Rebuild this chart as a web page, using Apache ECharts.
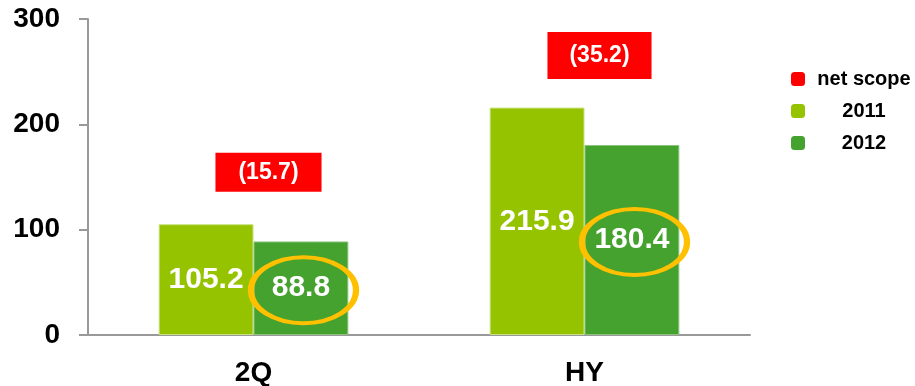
<!DOCTYPE html>
<html>
<head>
<meta charset="utf-8">
<script src="https://cdn.jsdelivr.net/npm/echarts@6/dist/echarts.min.js"></script>
<style>
  html, body { margin: 0; padding: 0; background: #fff; }
  #chart { width: 915px; height: 386px; }
</style>
</head>
<body>
<div id="chart"></div>
<script>
// 数据
const categories = ['2Q', 'HY']
const values2011 = [105.2, 215.9]
const values2012 = [88.8, 180.4]
const netScope = [-15.7, -35.2]
const yTicks = [0, 100, 200, 300]

const FONT = '"Liberation Sans", Arial, sans-serif'
const colors = { net: '#FF0000', y2011: '#96C300', y2012: '#45A22E', ring: '#FFC000' }

const chart = echarts.init(document.getElementById('chart'))

// net scope 标签放在较高柱子上方
const netData = categories.map((c, i) => ({
  value: [c, Math.max(values2011[i], values2012[i]), netScope[i]],
  label: { padding: i === 0 ? [8, 23] : [12, 22] }
}))

// 2012 数值外的椭圆圈
const ringData = categories.map((c, i) => [c, values2012[i] / 2])

const barLabel = {
  show: true,
  position: 'inside',
  color: '#fff',
  fontFamily: FONT,
  fontWeight: 'bold',
  fontSize: 30
}

const option = {
  animation: false,
  grid: { left: 88, right: 165, top: 19, bottom: 51, outerBoundsMode: 'none' },
  legend: {
    data: ['net scope', '2011', '2012'],
    orient: 'vertical',
    left: 791,
    top: 69,
    padding: 0,
    icon: 'roundRect',
    itemWidth: 14,
    itemHeight: 14,
    itemGap: 12,
    itemStyle: { borderWidth: 0, opacity: 1 },
    formatter: name => '{t|' + name + '}',
    textStyle: {
      rich: {
        t: {
          width: 108,
          align: 'center',
          fontFamily: FONT,
          fontWeight: 'bold',
          fontSize: 20,
          lineHeight: 20,
          color: '#000'
        }
      }
    }
  },
  xAxis: {
    type: 'category',
    data: categories,
    axisLine: { lineStyle: { color: '#999', width: 2 } },
    axisTick: { length: 8, lineStyle: { color: '#999', width: 2 } },
    axisLabel: {
      margin: 24,
      color: '#000',
      fontFamily: FONT,
      fontWeight: 'bold',
      fontSize: 28
    }
  },
  yAxis: {
    type: 'value',
    min: yTicks[0],
    max: yTicks[yTicks.length - 1],
    interval: 100,
    splitLine: { show: false },
    axisLine: { show: true, lineStyle: { color: '#999', width: 2 } },
    axisTick: { show: true, length: 9, lineStyle: { color: '#999', width: 2 } },
    axisLabel: {
      margin: 28,
      color: '#000',
      fontFamily: FONT,
      fontWeight: 'bold',
      fontSize: 28
    }
  },
  series: [
    {
      name: 'net scope',
      type: 'scatter',
      data: netData,
      symbolSize: 0,
      itemStyle: { color: colors.net, opacity: 1 },
      label: {
        show: true,
        position: 'inside',
        offset: [15, -52],
        formatter: p => '(' + Math.abs(p.value[2]).toFixed(1) + ')',
        backgroundColor: colors.net,
        color: '#fff',
        fontFamily: FONT,
        fontWeight: 'bold',
        fontSize: 23,
        lineHeight: 23
      },
      z: 5
    },
    {
      name: '2011',
      type: 'bar',
      data: values2011,
      barGap: '0%',
      barCategoryGap: '42.7%',
      itemStyle: { color: colors.y2011, borderColor: '#C9E27F', borderWidth: 1 },
      label: barLabel
    },
    {
      name: '2012',
      type: 'bar',
      data: values2012,
      itemStyle: { color: colors.y2012, borderColor: '#8CC47E', borderWidth: 1 },
      label: barLabel
    },
    {
      name: 'ring',
      type: 'scatter',
      data: ringData,
      symbol: 'circle',
      symbolSize: [105, 66],
      symbolOffset: [50, 2],
      silent: true,
      itemStyle: { color: 'rgba(0,0,0,0)', borderColor: colors.ring, borderWidth: 5, opacity: 1 },
      z: 4
    }
  ]
}

chart.setOption(option)
</script>
</body>
</html>
